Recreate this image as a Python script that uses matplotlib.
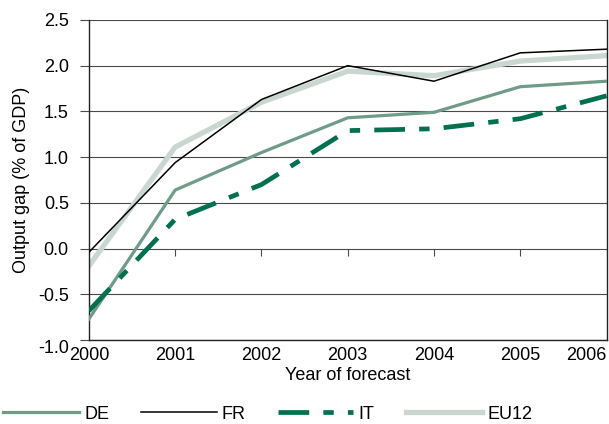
import matplotlib
matplotlib.use('Agg')
import matplotlib.pyplot as plt
import numpy as np

plt.rcParams['font.family'] = ['Liberation Sans', 'DejaVu Sans']

# data
years = [2000, 2001, 2002, 2003, 2004, 2005, 2006]
de = [-0.77, 0.64, 1.05, 1.43, 1.49, 1.77, 1.83]
fr = [-0.04, 0.94, 1.63, 2.00, 1.83, 2.14, 2.18]
it = [-0.68, 0.32, 0.70, 1.29, 1.31, 1.42, 1.67]
eu12 = [-0.19, 1.11, 1.60, 1.94, 1.89, 2.05, 2.11]
yticks = np.arange(-1.0, 2.51, 0.5)

fig = plt.figure(figsize=(6.09, 4.24), dpi=100)
ax = fig.add_axes([0.146, 0.198, 0.850, 0.755])

grid_c = '#4a4a4a'
for v in yticks:
    ax.axhline(v, color=grid_c, lw=0.8, zorder=1)

# small ticks on the zero line
ax.vlines(years[1:], -0.08, 0, color=grid_c, lw=0.8, zorder=1)

ax.plot(years, eu12, color='#c9d7d0', lw=3.8, label='EU12', zorder=2)
ax.plot(years, de, color='#6f9b88', lw=2.3, label='DE', zorder=3)
ax.plot(years, it, color='#00704f', lw=3.4, label='IT', zorder=4,
        dashes=(6.5, 3, 2.2, 3))
ax.plot(years, fr, color='black', lw=1.1, label='FR', zorder=5)

ax.set_xlim(2000, 2006)
ax.set_ylim(-1.0, 2.5)
ax.set_xticks(years)
ax.set_yticks(yticks)
ax.set_yticklabels(['%.1f' % v for v in yticks])
ax.tick_params(axis='y', length=6.5, width=0.8, color=grid_c, labelsize=13, pad=8)
ax.tick_params(axis='x', length=0, labelsize=13, pad=5)
for t in ax.get_yticklabels():
    t.set_va('center_baseline')
ax.get_yticklabels()[0].set_va('top')
ax.get_xticklabels()[-1].set_ha('right')
ax.spines['top'].set_visible(False)
for s in ['left', 'right', 'bottom']:
    ax.spines[s].set_color('#222222')
    ax.spines[s].set_linewidth(1.0)

ax.set_xlabel('Year of forecast', fontsize=13, labelpad=2)
ax.set_ylabel('Output gap (% of GDP)', fontsize=13, labelpad=6)

h, l = ax.get_legend_handles_labels()
order = [1, 3, 2, 0]
fig.legend([h[i] for i in order], [l[i] for i in order], loc='lower left',
           bbox_to_anchor=(-0.022, -0.035), ncol=4, frameon=False, fontsize=13,
           handlelength=4.2, handletextpad=0.3, columnspacing=1.75)

fig.savefig('out.png', dpi=100)
